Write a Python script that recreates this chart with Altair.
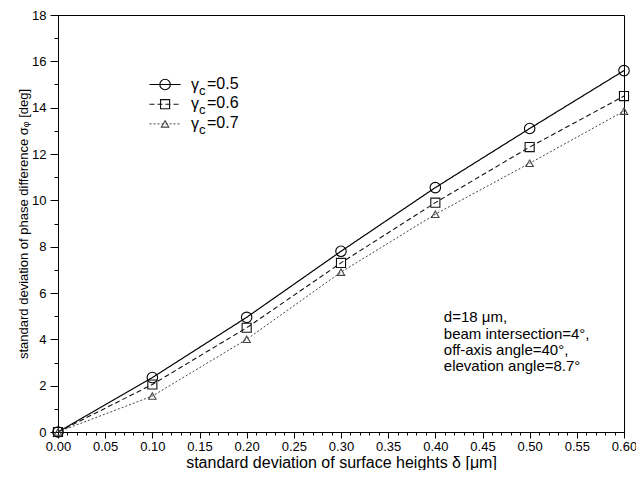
import altair as alt
import pandas as pd

# ---- data ----
deltas = [0.0, 0.1, 0.2, 0.3, 0.4, 0.5, 0.6]
g05 = [0.0, 2.35, 4.95, 7.8, 10.55, 13.1, 15.6]
g06 = [0.0, 2.05, 4.5, 7.3, 9.9, 12.3, 14.5]
g07 = [0.0, 1.55, 4.0, 6.9, 9.4, 11.6, 13.85]
series_names = ["0.5", "0.6", "0.7"]

x_major = [0.0, 0.05, 0.1, 0.15, 0.2, 0.25, 0.3, 0.35, 0.4, 0.45, 0.5, 0.55, 0.6]
x_minor = [round(i * 0.01, 2) for i in range(61)]
y_major = [0, 2, 4, 6, 8, 10, 12, 14, 16, 18]
y_minor = list(range(19))

legend_y = [15.0, 14.15, 13.3]
legend_x0 = 0.097
legend_x1 = 0.130
legend_xm = 0.1135
legend_xt = 0.141

ann_lines = ["d=18 \u03bcm,", "beam intersection=4\u00b0,", "off-axis angle=40\u00b0,", "elevation angle=8.7\u00b0"]
ann_y = [4.95, 4.25, 3.55, 2.85]
ann_x = 0.409

FONT = "Liberation Sans"

rows = []
for name, vals in zip(series_names, [g05, g06, g07]):
    for d, v in zip(deltas, vals):
        rows.append({"delta": d, "sigma": v, "gamma": name})
df = pd.DataFrame(rows)

leg = pd.DataFrame({"gamma": series_names, "y": legend_y, "x0": legend_x0,
                    "x1": legend_x1, "xm": legend_xm, "xt": legend_xt,
                    "val": ["=" + s for s in series_names]})
ann = pd.DataFrame({"t": ann_lines, "y": ann_y, "x": ann_x})

xs = alt.Scale(domain=[0, 0.6], nice=False, zero=False)
ys = alt.Scale(domain=[0, 18], nice=False)
dash = alt.Scale(domain=series_names, range=[[1, 0], [5, 3], [2, 2]])
shape = alt.Scale(domain=series_names, range=["circle", "square", "triangle-up"])
sizes = alt.Scale(domain=series_names, range=[110, 55, 60])
widths = alt.Scale(domain=series_names, range=[1.2, 1.0, 0.8])
colors = alt.Scale(domain=series_names, range=["#000000", "#111111", "#444444"])

x_axis = alt.Axis(values=x_major, format=".2f", tickSize=6, labelFontSize=13,
                  labelFont=FONT, labelColor="black", labelFlush=False,
                  labelOverlap=False, labelPadding=2, domainColor="black",
                  tickColor="black", grid=False,
                  title="standard deviation of surface heights \u03b4 [\u03bcm]",
                  titleFont=FONT, titleFontSize=16, titleFontWeight="normal",
                  titleColor="black", titlePadding=1)
y_axis = alt.Axis(values=y_major, format="d", tickSize=8, labelFontSize=13,
                  labelFont=FONT, labelColor="black", labelPadding=4,
                  domainColor="black", tickColor="black", grid=False,
                  title="standard deviation of phase difference \u03c3\u1d69 [deg]",
                  titleFont=FONT, titleFontSize=13, titleFontWeight="normal",
                  titleColor="black", titlePadding=1)

X = alt.X("delta:Q", scale=xs, axis=x_axis)
Y = alt.Y("sigma:Q", scale=ys, axis=y_axis)


def nx(field):
    return alt.X(field, scale=xs, axis=None)


def ny(field):
    return alt.Y(field, scale=ys, axis=None)


lines = alt.Chart(df).mark_line().encode(
    x=X, y=Y,
    strokeDash=alt.StrokeDash("gamma:N", scale=dash, legend=None),
    strokeWidth=alt.StrokeWidth("gamma:N", scale=widths, legend=None),
    color=alt.Color("gamma:N", scale=colors, legend=None),
    detail="gamma:N",
)
points = alt.Chart(df).mark_point(filled=False, strokeWidth=1.1, opacity=1).encode(
    x=nx("delta:Q"), y=ny("sigma:Q"),
    shape=alt.Shape("gamma:N", scale=shape, legend=None),
    size=alt.Size("gamma:N", scale=sizes, legend=None),
    color=alt.Color("gamma:N", scale=colors, legend=None),
)

minor = alt.Chart(df).mark_point(opacity=0).encode(
    x=alt.X("delta:Q", scale=xs, axis=alt.Axis(values=x_minor, labels=False, tickSize=3,
            domain=False, grid=False, title=None, orient="bottom", tickColor="black")),
    y=alt.Y("sigma:Q", scale=ys, axis=alt.Axis(values=y_minor, labels=False, tickSize=4,
            domain=False, grid=False, title=None, orient="left", tickColor="black")),
)

leg_lines = alt.Chart(leg).mark_rule().encode(
    x=nx("x0:Q"), x2="x1:Q", y=ny("y:Q"),
    strokeDash=alt.StrokeDash("gamma:N", scale=dash, legend=None),
    strokeWidth=alt.StrokeWidth("gamma:N", scale=widths, legend=None),
    color=alt.Color("gamma:N", scale=colors, legend=None),
)
leg_pts = alt.Chart(leg).mark_point(filled=False, strokeWidth=1.1, opacity=1).encode(
    x=nx("xm:Q"), y=ny("y:Q"),
    shape=alt.Shape("gamma:N", scale=shape, legend=None),
    size=alt.Size("gamma:N", scale=alt.Scale(domain=series_names, range=[90, 40, 40]), legend=None),
    color=alt.Color("gamma:N", scale=colors, legend=None),
)
leg_g = alt.Chart(leg).mark_text(align="left", baseline="middle", font=FONT,
                                 fontSize=16, color="black").encode(
    x=nx("xt:Q"), y=ny("y:Q"), text=alt.value("\u03b3"))
leg_c = alt.Chart(leg).mark_text(align="left", baseline="middle", font=FONT,
                                 fontSize=13, color="black", dx=8, dy=6).encode(
    x=nx("xt:Q"), y=ny("y:Q"), text=alt.value("c"))
leg_v = alt.Chart(leg).mark_text(align="left", baseline="middle", font=FONT,
                                 fontSize=16, color="black", dx=16, dy=-1).encode(
    x=nx("xt:Q"), y=ny("y:Q"), text="val:N")

ann_t = alt.Chart(ann).mark_text(align="left", baseline="middle", font=FONT,
                                 fontSize=15, color="black").encode(
    x=nx("x:Q"), y=ny("y:Q"), text="t:N")

chart = alt.layer(lines, points, minor, leg_lines, leg_pts, leg_g, leg_c, leg_v, ann_t).resolve_axis(
    x="independent", y="independent"
).properties(
    width=566, height=417,
    autosize=alt.AutoSizeParams(type="none"),
    padding={"left": 50, "top": 7, "right": 12, "bottom": 38},
).configure_view(stroke="black", strokeWidth=1)

chart.save("out.html", embed_options={"renderer": "svg", "actions": False})
